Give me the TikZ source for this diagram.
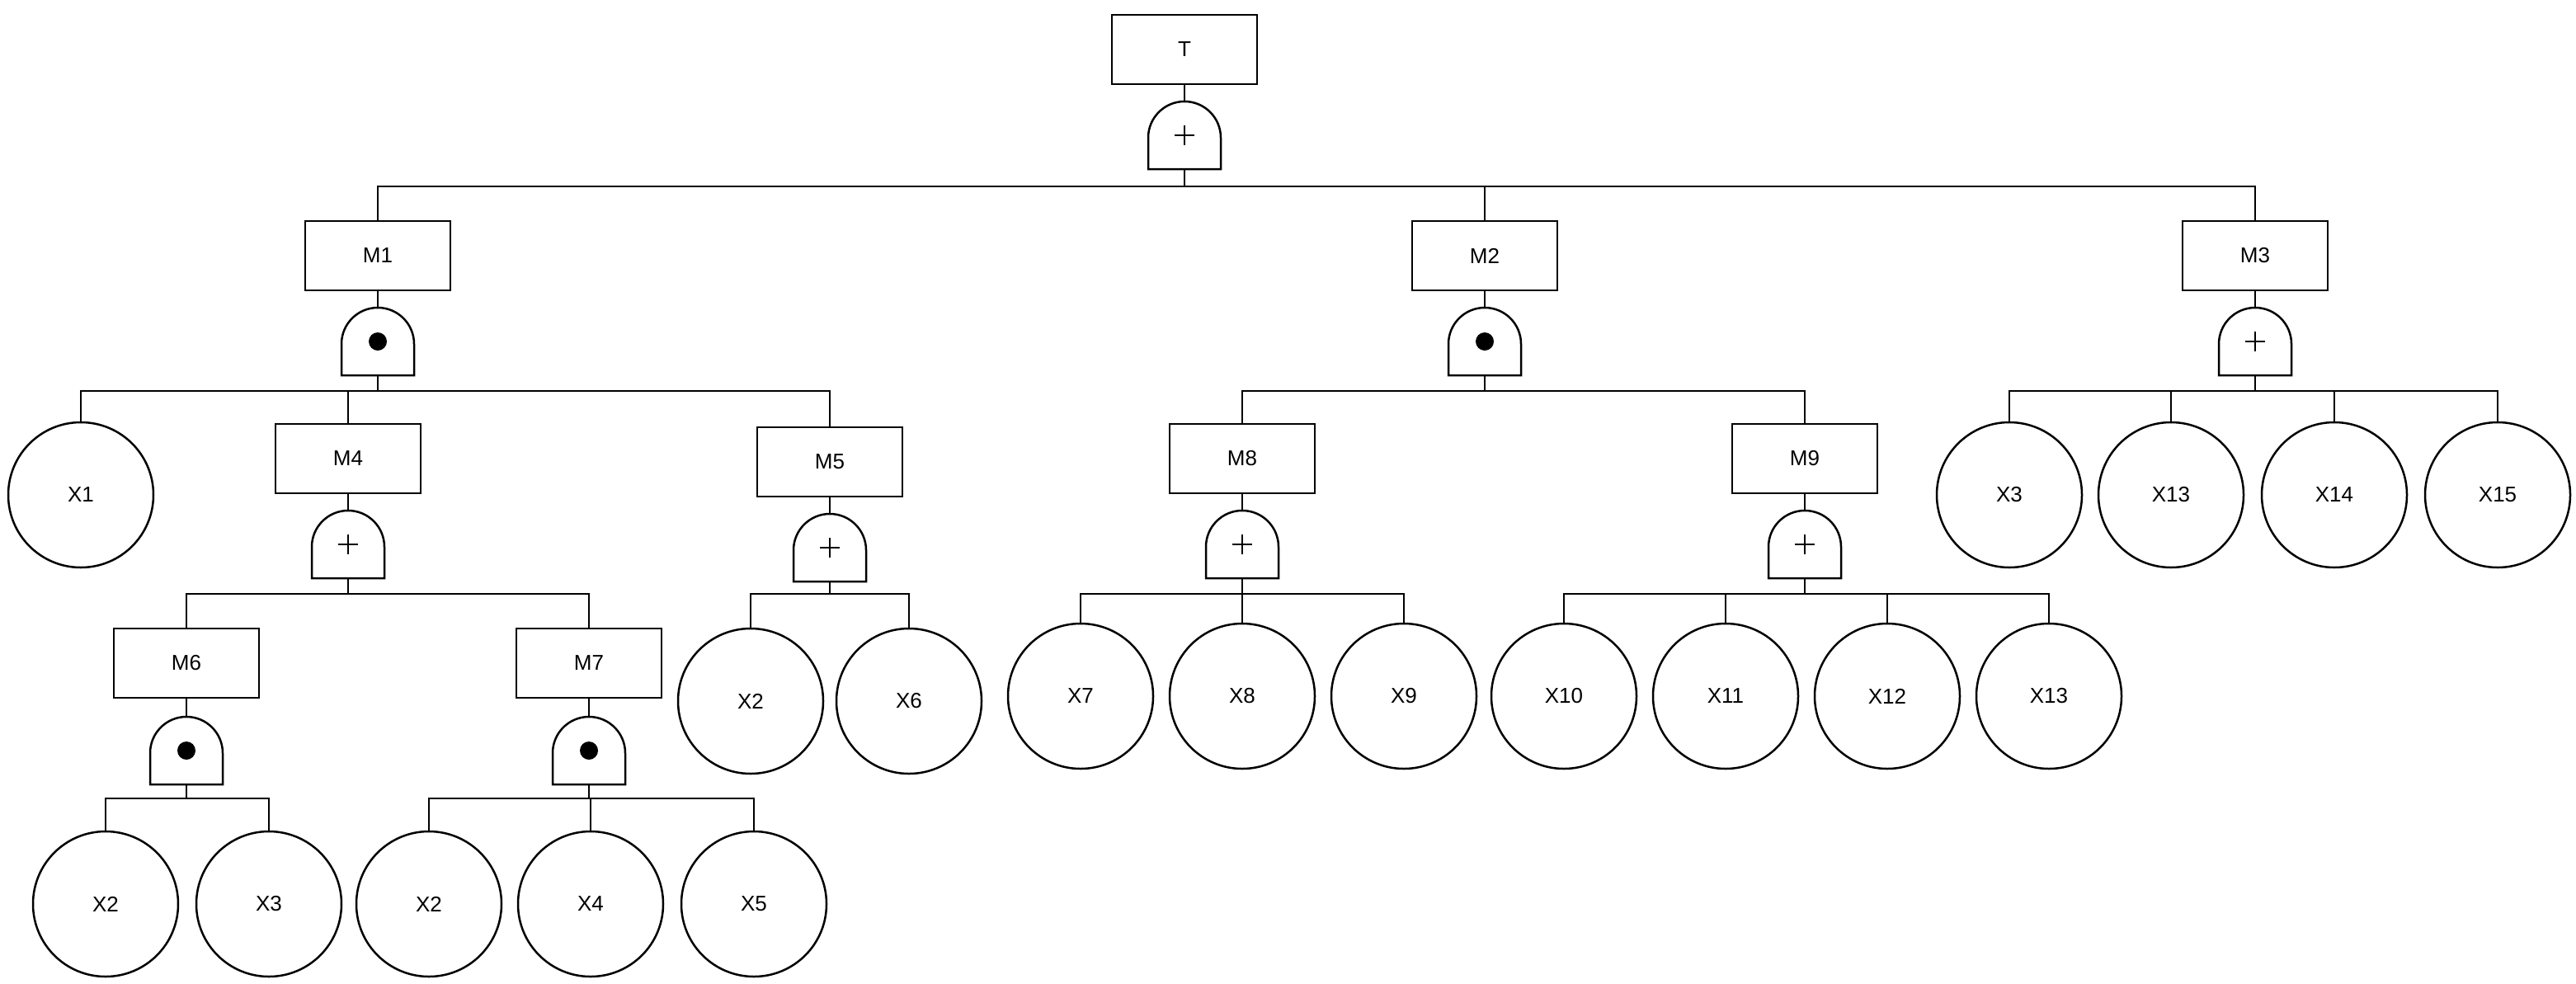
\documentclass[tikz,border=0pt]{standalone}
\usepackage{fontspec}
\setmainfont{Liberation Sans}
\begin{document}
\begin{tikzpicture}[x=2pt,y=-2pt,
  conn/.style={line width=2.5pt,line join=miter},
  ev/.style={draw,line width=2.5pt,minimum width=176pt,minimum height=84pt,inner sep=0pt,font=\fontsize{26}{28}\selectfont},
  basic/.style={draw,circle,line width=2.5pt,minimum size=176pt,inner sep=0pt,font=\fontsize{26}{28}\selectfont}]
\useasboundingbox (0,0) rectangle (1561.5,596);
\newcommand\gt[4]{%
  \coordinate (#1t) at (#2,#3-20.5);
  \coordinate (#1b) at (#2,#3+20.5);
  \draw[conn] (#2-22,#3+20.5) -- (#2-22,#3+1.5) arc[start angle=180,end angle=0,radius=44pt] -- (#2+22,#3+20.5) -- cycle;
  \ifx#4p\draw[line width=2.5pt] (#2-6,#3) -- (#2+6,#3) (#2,#3-6) -- (#2,#3+6);\else\fill (#2,#3) circle (11pt);\fi}
% events
\node[ev] (T) at (718,30) {T};
\node[ev] (M1) at (229,155) {M1};
\node[ev] (M2) at (900,155) {M2};
\node[ev] (M3) at (1367,155) {M3};
\node[ev] (M4) at (211,278) {M4};
\node[ev] (M5) at (503,280) {M5};
\node[ev] (M8) at (753,278) {M8};
\node[ev] (M9) at (1094,278) {M9};
\node[ev] (M6) at (113,402) {M6};
\node[ev] (M7) at (357,402) {M7};
% basic
\node[basic] (a1) at (49,300) {X1};
\node[basic] (a2) at (1218,300) {X3};
\node[basic] (a3) at (1316,300) {X13};
\node[basic] (a4) at (1415,300) {X14};
\node[basic] (a5) at (1514,300) {X15};
\node[basic] (b1) at (455,425) {X2};
\node[basic] (b2) at (551,425) {X6};
\node[basic] (c1) at (655,422) {X7};
\node[basic] (c2) at (753,422) {X8};
\node[basic] (c3) at (851,422) {X9};
\node[basic] (d1) at (948,422) {X10};
\node[basic] (d2) at (1046,422) {X11};
\node[basic] (d3) at (1144,422) {X12};
\node[basic] (d4) at (1242,422) {X13};
\node[basic] (e1) at (64,548) {X2};
\node[basic] (e2) at (163,548) {X3};
\node[basic] (e3) at (260,548) {X2};
\node[basic] (e4) at (358,548) {X4};
\node[basic] (e5) at (457,548) {X5};
% gates
\gt{gT}{718}{82}{p}
\gt{g1}{229}{207}{d}
\gt{g2}{900}{207}{d}
\gt{g3}{1367}{207}{p}
\gt{g4}{211}{330}{p}
\gt{g5}{503}{332}{p}
\gt{g8}{753}{330}{p}
\gt{g9}{1094}{330}{p}
\gt{g6}{113}{455}{d}
\gt{g7}{357}{455}{d}
% event to gate
\foreach \e/\g in {T/gT,M1/g1,M2/g2,M3/g3,M4/g4,M5/g5,M8/g8,M9/g9,M6/g6,M7/g7}
  \draw[conn] (\e.south) -- (\g t);
% bars
\coordinate (BT) at (718,113);
\coordinate (B1) at (229,237);
\coordinate (B2) at (900,237);
\coordinate (B3) at (1367,237);
\coordinate (B4) at (211,360);
\coordinate (B5) at (503,360);
\coordinate (B8) at (753,360);
\coordinate (B9) at (1094,360);
\coordinate (B6) at (113,484);
\coordinate (B7) at (357,484);
\foreach \g/\b in {gT/BT,g1/B1,g2/B2,g3/B3,g4/B4,g5/B5,g8/B8,g9/B9,g6/B6,g7/B7}
  \draw[conn] (\g b) -- (\b);
\foreach \b/\c in {BT/M1,BT/M2,BT/M3,B1/a1,B1/M4,B1/M5,B2/M8,B2/M9,B3/a2,B3/a3,B3/a4,B3/a5,
  B4/M6,B4/M7,B5/b1,B5/b2,B8/c1,B8/c2,B8/c3,B9/d1,B9/d2,B9/d3,B9/d4,B6/e1,B6/e2,B7/e3,B7/e4,B7/e5}
  \draw[conn] (\b) -| (\c.north);
\end{tikzpicture}
\end{document}
